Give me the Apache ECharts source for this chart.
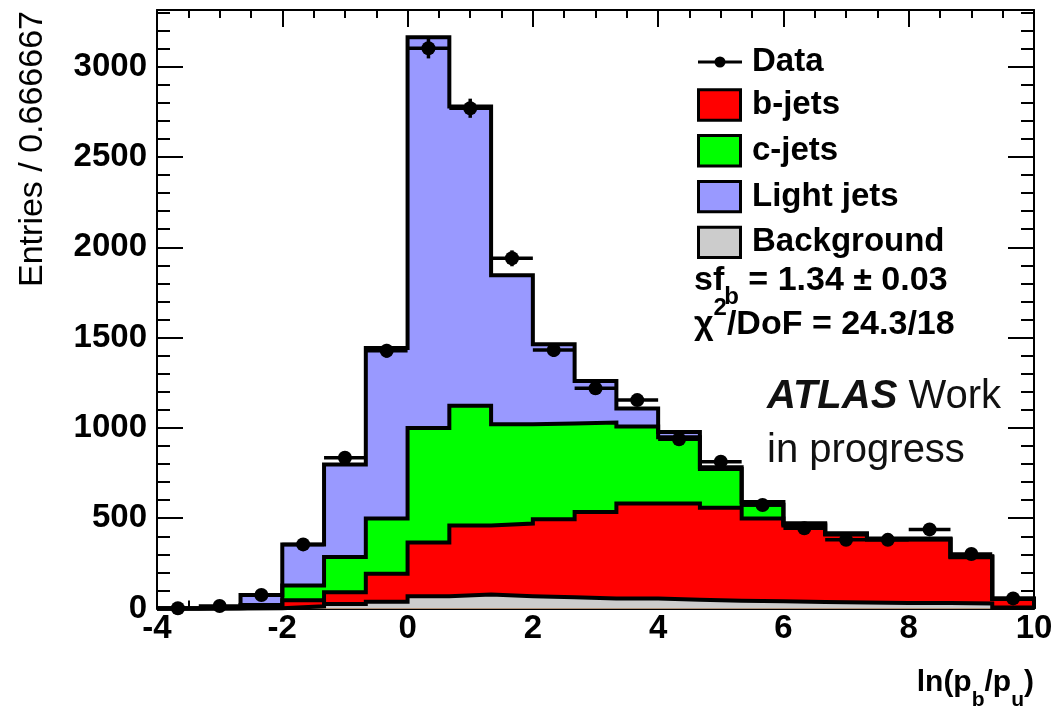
<!DOCTYPE html>
<html>
<head>
<meta charset="utf-8">
<title>ln(pb/pu) template fit</title>
<script src="https://cdn.jsdelivr.net/npm/echarts@6/dist/echarts.min.js"></script>
<style>
  html, body { margin: 0; padding: 0; background: #fff; }
  #chart { width: 1058px; height: 715px; }
</style>
</head>
<body>
<div id="chart"></div>
<script>
const xMin = -4
const xMax = 10
const nBins = 21
const yMax = 3314

// per-bin contributions, bins of 0.666667 from -4 to 10
const background = [0, 0, 2, 12, 25, 38, 68, 78, 68, 62, 56, 56, 48, 43, 40, 36, 33, 31, 30, 28, 5]
const bJets = [0, 2, 8, 33, 65, 154, 297, 382, 402, 432, 479, 526, 534, 515, 458, 424, 377, 351, 352, 256, 47]
const cJets = [0, 1, 10, 83, 195, 306, 635, 662, 550, 531, 495, 426, 366, 214, 77, 6, 3, 2, 2, 3, 2]
const lightJets = [1, 5, 55, 227, 513, 944, 2163, 1657, 825, 438, 230, 100, 29, 10, 15, 6, 3, 3, 3, 3, 2]

const dataCounts = [1, 14, 75, 355, 835, 1427, 3102, 2770, 1939, 1431, 1219, 1154, 937, 813, 573, 444, 380, 380, 438, 302, 56]
const dataErrors = [1, 4, 9, 19, 29, 38, 56, 53, 44, 38, 35, 34, 31, 29, 24, 21, 19, 19, 21, 17, 8]

const legendLabels = ['Data', 'b-jets', 'c-jets', 'Light jets', 'Background']
const fitLines = ['1.34 ± 0.03', '24.3/18']

const FONT = '"Liberation Sans", Arial, Helvetica, sans-serif'
const binWidth = (xMax - xMin) / nBins

// stack tops, the way THStack piles them up
const topBkg = background.slice()
const topB = topBkg.map((v, i) => v + bJets[i])
const topC = topB.map((v, i) => v + cJets[i])
const topLight = topC.map((v, i) => v + lightJets[i])

const stepPoints = (tops) => {
  const pts = [[xMin, 0]]
  tops.forEach((v, i) => {
    const lo = xMin + i * binWidth
    pts.push([lo, v], [lo + binWidth, v])
  })
  pts.push([xMax, 0])
  return pts
}

const histSeries = (name, tops, color) => ({
  name,
  type: 'line',
  data: stepPoints(tops),
  symbol: 'none',
  showSymbol: false,
  clip: false,
  silent: true,
  lineStyle: { color: '#000', width: 4, join: 'miter' },
  areaStyle: { color, opacity: 1 },
  z: 2
})

const binCenter = (i) => xMin + (i + 0.5) * binWidth

const chart = echarts.init(document.getElementById('chart'))

const tickStyle = { color: '#000', width: 2 }
const xAxisBase = {
  type: 'value',
  min: xMin,
  max: xMax,
  interval: 2,
  axisLine: { show: true, onZero: false, lineStyle: tickStyle },
  axisTick: { show: true, inside: true, length: 17, lineStyle: tickStyle },
  minorTick: { show: true, splitNumber: 4, length: 8, lineStyle: tickStyle },
  splitLine: { show: false }
}
const yAxisBase = (position, interval, len, labels) => ({
  type: 'value',
  position,
  min: 0,
  max: yMax,
  interval,
  axisLine: { show: interval === 500, onZero: false, lineStyle: tickStyle },
  axisTick: { show: true, inside: true, length: len, lineStyle: tickStyle },
  axisLabel: labels ? {
    show: true,
    showMaxLabel: false,
    margin: 10,
    color: '#000',
    fontSize: 33,
    fontWeight: 'bold',
    fontFamily: FONT,
    formatter: (v) => String(v)
  } : { show: false },
  splitLine: { show: false }
})

const legendRowY = [62, 105, 150.8, 196.6, 242.4]
const legendColors = [null, '#ff0000', '#00ff00', '#9999ff', '#cccccc']

const legendGraphics = []
legendLabels.forEach((label, i) => {
  const cy = legendRowY[i]
  if (i === 0) {
    legendGraphics.push(
      { type: 'line', shape: { x1: 698, y1: cy, x2: 742, y2: cy }, style: { stroke: '#000', lineWidth: 3 } },
      { type: 'circle', shape: { cx: 720, cy, r: 5.5 }, style: { fill: '#000' } }
    )
  } else {
    legendGraphics.push({
      type: 'rect',
      shape: { x: 698.5, y: cy - 15.2, width: 42, height: 30.4 },
      style: { fill: legendColors[i], stroke: '#000', lineWidth: 3 }
    })
  }
  legendGraphics.push({
    type: 'text',
    x: 752,
    y: cy,
    style: { text: label, fill: '#000', font: 'bold 33px ' + FONT, verticalAlign: 'middle' }
  })
})

const main = (size, lh) => ({ fontSize: size, fontWeight: 'bold', fontFamily: FONT, fill: '#000', lineHeight: lh, verticalAlign: 'middle' })
const small = (size, va) => ({ fontSize: size, fontWeight: 'bold', fontFamily: FONT, fill: '#000', lineHeight: size, verticalAlign: va })

const option = {
  animation: false,
  backgroundColor: '#fff',
  grid: { left: 157, right: 24, top: 10, bottom: 106.5, show: false },
  xAxis: [
    Object.assign({}, xAxisBase, {
      position: 'bottom',
      axisLabel: { show: true, margin: 4, color: '#000', fontSize: 33, fontWeight: 'bold', fontFamily: FONT }
    }),
    Object.assign({}, xAxisBase, { position: 'top', axisLabel: { show: false } })
  ],
  yAxis: [
    yAxisBase('left', 500, 26, true),
    yAxisBase('left', 100, 13, false),
    yAxisBase('right', 500, 26, false),
    yAxisBase('right', 100, 13, false)
  ],
  series: [
    histSeries('Light jets', topLight, '#9999ff'),
    histSeries('c-jets', topC, '#00ff00'),
    histSeries('b-jets', topB, '#ff0000'),
    histSeries('Background', topBkg, '#cccccc'),
    {
      name: 'Data errors',
      type: 'custom',
      silent: true,
      z: 5,
      data: dataCounts.map((v, i) => [binCenter(i), v, dataErrors[i]]),
      encode: { x: 0, y: 1 },
      renderItem: (params, api) => {
        const xc = api.value(0)
        const y = api.value(1)
        const e = api.value(2)
        const left = api.coord([xc - binWidth / 2, y])
        const right = api.coord([xc + binWidth / 2, y])
        const up = api.coord([xc, y + e])
        const down = api.coord([xc, Math.max(0, y - e)])
        const stroke = { stroke: '#000', lineWidth: 3.5 }
        return {
          type: 'group',
          children: [
            { type: 'line', shape: { x1: left[0], y1: left[1], x2: right[0], y2: right[1] }, style: stroke },
            { type: 'line', shape: { x1: up[0], y1: up[1], x2: down[0], y2: down[1] }, style: stroke }
          ]
        }
      }
    },
    {
      name: 'Data',
      type: 'scatter',
      silent: true,
      z: 6,
      symbol: 'circle',
      symbolSize: 14,
      itemStyle: { color: '#000', opacity: 1 },
      data: dataCounts.map((v, i) => [binCenter(i), v])
    }
  ],
  graphic: legendGraphics.concat([
    {
      type: 'text',
      x: 694,
      y: 281,
      style: {
        text: '{m|sf}{s|b}{m| = ' + fitLines[0] + '}',
        verticalAlign: 'middle',
        rich: { m: main(34, 57), s: small(24, 'bottom') }
      }
    },
    {
      type: 'text',
      x: 694,
      y: 325,
      style: {
        text: '{m|χ}{s|2}{m|/DoF = ' + fitLines[1] + '}',
        verticalAlign: 'middle',
        rich: { m: main(34, 57), s: small(24, 'top') }
      }
    },
    {
      type: 'text',
      x: 767,
      y: 397,
      style: {
        text: '{a|ATLAS}{w| Work}',
        verticalAlign: 'middle',
        rich: {
          a: { fontSize: 40, fontWeight: 'bold', fontStyle: 'italic', fontFamily: FONT, fill: '#111' },
          w: { fontSize: 40, fontFamily: FONT, fill: '#111' }
        }
      }
    },
    {
      type: 'text',
      x: 767,
      y: 451,
      style: { text: 'in progress', font: '40px ' + FONT, fill: '#111', verticalAlign: 'middle' }
    },
    {
      type: 'text',
      x: 1034,
      y: 683,
      style: {
        text: '{m|ln(p}{s|b}{m|/p}{s|u}{m|)}',
        align: 'right',
        verticalAlign: 'middle',
        rich: { m: main(30, 55), s: small(21, 'bottom') }
      }
    },
    {
      type: 'text',
      x: 33,
      y: 11,
      rotation: Math.PI / 2,
      style: { text: 'Entries / 0.666667', font: '34px ' + FONT, fill: '#000', align: 'right', verticalAlign: 'middle' }
    }
  ])
}

chart.setOption(option)
</script>
</body>
</html>
